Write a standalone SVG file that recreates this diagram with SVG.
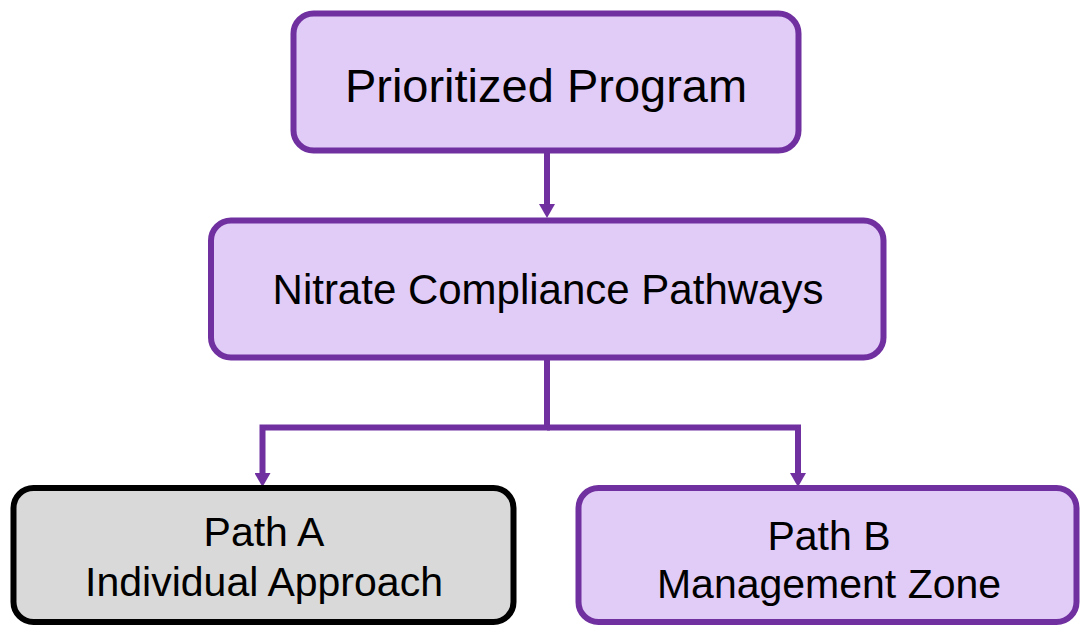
<svg xmlns="http://www.w3.org/2000/svg" width="1080" height="627" viewBox="0 0 1080 627">
  <style>
    .box { fill: #e1cbf7; stroke: #7030a0; stroke-width: 6; }
    .gray { fill: #d9d9d9; stroke: #000000; stroke-width: 6; }
    .lbl { font-family: "Liberation Sans", Arial, sans-serif; fill: #000000; text-anchor: middle; }
    .conn { fill: none; stroke: #7030a0; stroke-width: 6; stroke-linejoin: miter; }
  </style>
  <defs>
    <marker id="arrow" markerUnits="userSpaceOnUse" markerWidth="14" markerHeight="16" viewBox="0 0 14 16" refX="0" refY="8" orient="auto">
      <path d="M0,0 L14,8 L0,16 z" fill="#7030a0"/>
    </marker>
  </defs>
  <rect width="1080" height="627" fill="#ffffff"/>

  <g id="connectors">
    <path class="conn" d="M547,152 V204" marker-end="url(#arrow)"/>
    <path class="conn" d="M547,359 V427.5 H262.5 V473" marker-end="url(#arrow)"/>
    <path class="conn" d="M547,427.5 H798 V473" marker-end="url(#arrow)"/>
  </g>

  <g id="prioritized-program">
    <rect class="box" x="293.5" y="13.5" width="505" height="137" rx="20" ry="20"/>
    <text class="lbl" x="546" y="102" font-size="47">Prioritized Program</text>
  </g>

  <g id="nitrate-compliance-pathways">
    <rect class="box" x="211" y="220.5" width="672.5" height="137" rx="20" ry="20"/>
    <text class="lbl" x="548" y="304" font-size="42">Nitrate Compliance Pathways</text>
  </g>

  <g id="path-a">
    <rect class="gray" x="13.5" y="488" width="500" height="134" rx="20" ry="20"/>
    <text class="lbl" x="264" y="546" font-size="41">Path A</text>
    <text class="lbl" x="264" y="596" font-size="41">Individual Approach</text>
  </g>

  <g id="path-b">
    <rect class="box" x="578.5" y="488" width="498" height="134" rx="20" ry="20"/>
    <text class="lbl" x="829" y="550" font-size="41">Path B</text>
    <text class="lbl" x="829" y="598" font-size="41">Management Zone</text>
  </g>
</svg>
